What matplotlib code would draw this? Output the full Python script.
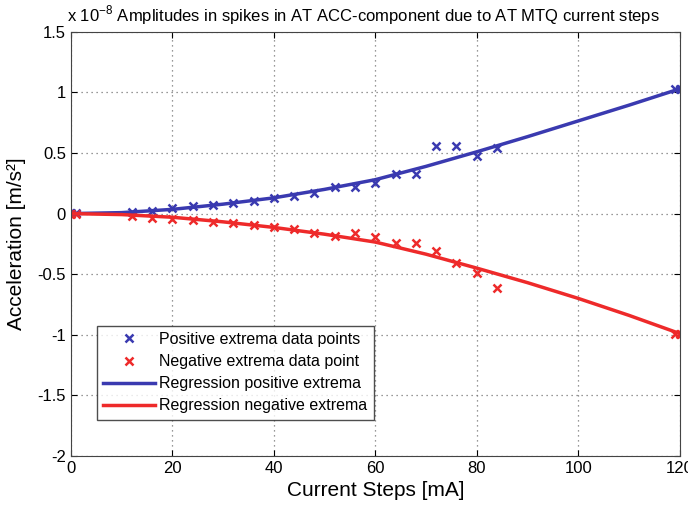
import numpy as np
import matplotlib
matplotlib.use("Agg")
import matplotlib.pyplot as plt

# measured spike amplitudes (units of 1e-8 m/s^2)
steps = [0, 1, 12, 16, 20, 24, 28, 32, 36, 40, 44, 48, 52, 56, 60, 64, 68, 72, 76, 80, 84, 119, 120]
pos_extrema = [0.005, 0.005, 0.015, 0.023, 0.043, 0.062, 0.07, 0.084, 0.106, 0.126, 0.145, 0.17,
               0.217, 0.217, 0.25, 0.33, 0.33, 0.56, 0.56, 0.475, 0.54, 1.03, 1.03]
neg_extrema = [-0.005, -0.005, -0.02, -0.04, -0.048, -0.054, -0.068, -0.078, -0.095, -0.114, -0.13,
               -0.164, -0.186, -0.164, -0.19, -0.24, -0.24, -0.31, -0.41, -0.49, -0.61, -0.99, -0.99]

# regression curves
reg_x = [0, 10, 20, 30, 40, 50, 60, 70, 80, 90, 100, 110, 120]
reg_pos = [0, 0.008, 0.035, 0.078, 0.13, 0.2, 0.28, 0.39, 0.51, 0.635, 0.765, 0.895, 1.03]
reg_neg = [0, -0.008, -0.03, -0.068, -0.114, -0.17, -0.235, -0.335, -0.45, -0.57, -0.70, -0.84, -0.99]

plt.rcParams["font.family"] = ["Liberation Sans", "DejaVu Sans"]
plt.rcParams["mathtext.fontset"] = "custom"
plt.rcParams["mathtext.rm"] = "Liberation Sans"

blue = "#3a3ab0"
red = "#ee2a2a"

fig = plt.figure(figsize=(6.88, 5.14), dpi=100)
ax = fig.add_axes([0.103, 0.113, 0.885, 0.825])

ax.plot(steps, pos_extrema, "x", color=blue, ms=6, mew=1.8, label="Positive extrema data points")
ax.plot(steps, neg_extrema, "x", color=red, ms=6, mew=1.8, label="Negative extrema data point")
ax.plot(reg_x, reg_pos, "-", color=blue, lw=2.5, label="Regression positive extrema")
ax.plot(reg_x, reg_neg, "-", color=red, lw=2.5, label="Regression negative extrema")

ax.set_xlim(0, 120)
ax.set_ylim(-2, 1.5)
ax.set_xticks(np.arange(0, 121, 20))
ax.set_yticks(np.arange(-2, 1.51, 0.5))
ax.set_yticklabels(["-2", "-1.5", "-1", "-0.5", "0", "0.5", "1", "1.5"])
ax.tick_params(direction="in", top=True, right=True, labelsize=12, length=4)
ax.grid(True, linestyle=(0, (1, 3)), color="#777777", linewidth=0.9)
for s in ax.spines.values():
    s.set_color("#444444")

ax.set_xlabel("Current Steps [mA]", fontsize=15, labelpad=4)
ax.set_ylabel("Acceleration [m/s²]", fontsize=15, labelpad=8)
ax.text(-0.006, 1.012,
        r"x 10$^{\mathrm{-8}}$ Amplitudes in spikes in AT ACC-component due to AT MTQ current steps",
        transform=ax.transAxes, fontsize=12, ha="left", va="bottom")

leg = ax.legend(loc="lower left", bbox_to_anchor=(0.043, 0.085), borderaxespad=0, fontsize=11.5,
                frameon=True, fancybox=False, edgecolor="#222222", handlelength=3.2, borderpad=0.4,
                labelspacing=0.45, handletextpad=0.3)
leg.get_frame().set_linewidth(1.0)

fig.savefig("out.png", dpi=100)
